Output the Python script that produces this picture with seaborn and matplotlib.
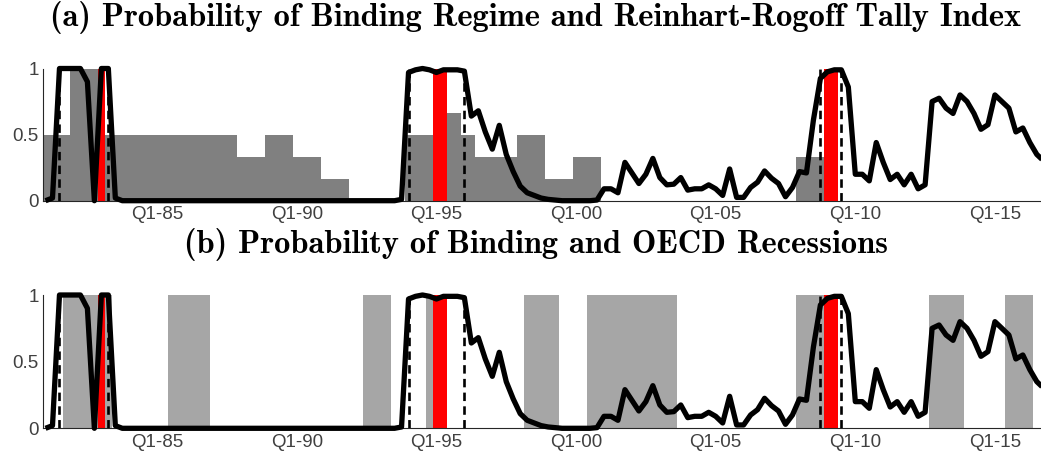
import matplotlib
matplotlib.use("Agg")
import matplotlib.pyplot as plt
import numpy as np
import pandas as pd
import seaborn as sns

# ---------------- data ----------------
start_year = 1981.0  # first quarter 1981Q1, quarterly
prob_binding = [
    0.00, 0.02, 1.00, 1.00,   # 1981
    1.00, 1.00, 0.90, 0.00,   # 1982
    1.00, 1.00, 0.02, 0.00,   # 1983
    0.00, 0.00, 0.00, 0.00,   # 1984
    0.00, 0.00, 0.00, 0.00,   # 1985
    0.00, 0.00, 0.00, 0.00,   # 1986
    0.00, 0.00, 0.00, 0.00,   # 1987
    0.00, 0.00, 0.00, 0.00,   # 1988
    0.00, 0.00, 0.00, 0.00,   # 1989
    0.00, 0.00, 0.00, 0.00,   # 1990
    0.00, 0.00, 0.00, 0.00,   # 1991
    0.00, 0.00, 0.00, 0.00,   # 1992
    0.00, 0.00, 0.00, 0.01,   # 1993
    0.97, 0.99, 1.00, 0.99,   # 1994
    0.97, 0.99, 0.99, 0.99,   # 1995
    0.98, 0.64, 0.68, 0.52,   # 1996
    0.39, 0.57, 0.35, 0.22,   # 1997
    0.11, 0.06, 0.04, 0.02,   # 1998
    0.01, 0.005, 0.00, 0.00,  # 1999
    0.00, 0.00, 0.00, 0.005,  # 2000
    0.09, 0.09, 0.06, 0.29,   # 2001
    0.21, 0.13, 0.20, 0.32,   # 2002
    0.175, 0.12, 0.125, 0.175,  # 2003
    0.08, 0.09, 0.09, 0.12,   # 2004
    0.09, 0.04, 0.24, 0.025,  # 2005
    0.025, 0.10, 0.14, 0.225,  # 2006
    0.17, 0.13, 0.03, 0.10,   # 2007
    0.22, 0.21, 0.61, 0.925,  # 2008
    0.975, 0.99, 0.99, 0.86,  # 2009
    0.20, 0.20, 0.15, 0.44,   # 2010
    0.29, 0.16, 0.20, 0.12,   # 2011
    0.20, 0.09, 0.12, 0.75,   # 2012
    0.775, 0.70, 0.66, 0.80,  # 2013
    0.75, 0.66, 0.54, 0.575,  # 2014
    0.80, 0.75, 0.70, 0.52,   # 2015
    0.55, 0.44, 0.35, 0.30,   # 2016
]

# Reinhart-Rogoff tally index (first quarter, last quarter, value)
tally_first = [1981.0, 1982.0, 1983.0, 1988.0, 1989.0, 1990.0, 1991.0,
               1994.0, 1995.0, 1996.0, 1996.5, 1998.0, 1999.0, 2000.0, 2008.0]
tally_last = [1981.75, 1982.75, 1987.75, 1988.75, 1989.75, 1990.75, 1991.75,
              1994.75, 1995.75, 1996.25, 1997.75, 1998.75, 1999.75, 2000.75, 2008.75]
tally_value = [0.5, 1.0, 0.5, 0.333, 0.5, 0.333, 0.167,
               0.5, 0.667, 0.5, 0.333, 0.5, 0.167, 0.333, 0.333]

# OECD recessions (first quarter, last quarter)
rec_first = [1981.75, 1985.5, 1992.5, 1994.75, 1998.25, 2000.5, 2008.0, 2012.75, 2015.5]
rec_last = [1983.25, 1986.75, 1993.25, 1995.0, 1999.25, 2003.5, 2009.0, 2013.75, 2016.25]

# red markers (first quarter, last quarter)
red_first = [1983.0, 1995.0, 2009.0]
red_last = [1983.0, 1995.25, 2009.25]

# dashed regime dates
dashed_dates = [1981.5, 1983.25, 1994.0, 1996.0, 2008.75, 2009.5]

tick_years = list(range(1981, 2017))
label_years = [1985, 1990, 1995, 2000, 2005, 2010, 2015]
label_texts = ["Q1-85", "Q1-90", "Q1-95", "Q1-00", "Q1-05", "Q1-10", "Q1-15"]

titles = ["(a) Probability of Binding Regime and Reinhart-Rogoff Tally Index",
          "(b) Probability of Binding and OECD Recessions"]

# ---------------- plot ----------------
sns.set_theme(style="white")
plt.rcParams["font.family"] = ["Liberation Sans", "DejaVu Sans"]

W, H = 1041, 457
fig = plt.figure(figsize=(W / 100, H / 100), dpi=100)

df = pd.DataFrame({"date": [start_year + 0.25 * i for i in range(len(prob_binding))],
                   "prob": prob_binding})

q = 0.125
ax_a = fig.add_axes([43 / W, 1 - 200.7 / H, (W - 43) / W, 132.2 / H])
ax_b = fig.add_axes([43 / W, 1 - 428.3 / H, (W - 43) / W, 133.3 / H])

def style_axis(ax):
    ax.set_xlim(1980.91, 2016.65)
    ax.set_ylim(0, 1)
    ax.set_yticks([0, 0.5, 1])
    ax.set_yticklabels(["0", "0.5", "1"])
    ax.set_xticks(tick_years)
    ax.set_xticklabels([label_texts[label_years.index(y)] if y in label_years else ""
                        for y in tick_years])
    for s in ["top", "right"]:
        ax.spines[s].set_visible(False)
    for s in ["left", "bottom"]:
        ax.spines[s].set_color("#262626")
        ax.spines[s].set_linewidth(0.8)
    ax.tick_params(axis="both", direction="in", length=6, width=0.8,
                   color="#262626", labelcolor="#404040", labelsize=13.5)
    ax.tick_params(axis="x", pad=4)
    ax.tick_params(axis="y", pad=3)
    ax.set_xlabel("")
    ax.set_ylabel("")

def draw_common(ax):
    # red markers
    for f, l in zip(red_first, red_last):
        ax.bar(f - q, 1.0, width=(l - f) + 2 * q, align="edge",
               color="#ff0000", linewidth=0, zorder=2)
    ax.vlines(dashed_dates, 0, 1, colors="black", linestyles=(0, (3.2, 2.0)),
              linewidth=1.9, zorder=3)
    sns.lineplot(data=df, x="date", y="prob", ax=ax, color="black",
                 linewidth=3.8, zorder=4)
    for ln in ax.lines:
        ln.set_clip_on(False)
        ln.set_solid_joinstyle("round")
        ln.set_solid_capstyle("butt")

# panel (a)
for f, l, v in zip(tally_first, tally_last, tally_value):
    ax_a.bar(f - q, v, width=(l - f) + 2 * q, align="edge",
             color="#808080", linewidth=0, zorder=1)
draw_common(ax_a)
style_axis(ax_a)

# panel (b)
for f, l in zip(rec_first, rec_last):
    ax_b.bar(f - q, 1.0, width=(l - f) + 2 * q, align="edge",
             color="#a6a6a6", linewidth=0, zorder=1)
draw_common(ax_b)
style_axis(ax_b)

fig.text(536 / W, 1 - 26 / H, titles[0], ha="center", va="baseline",
         fontsize=23.4, family="cmb10", color="black")
fig.text(536 / W, 1 - 253 / H, titles[1], ha="center", va="baseline",
         fontsize=23.4, family="cmb10", color="black")

fig.savefig("out.png", dpi=100)
